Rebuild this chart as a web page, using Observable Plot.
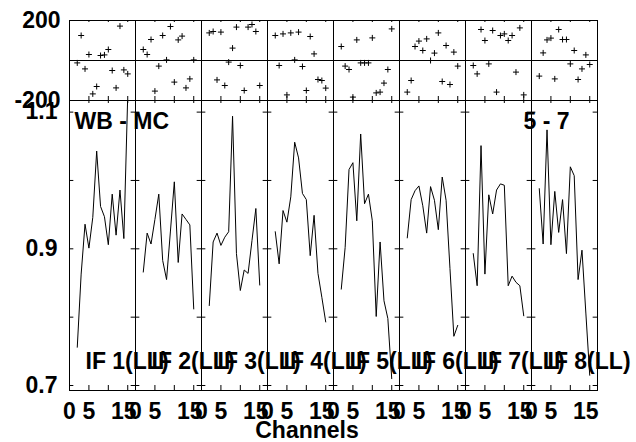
<!DOCTYPE html>
<html><head><meta charset="utf-8">
<script src="https://cdn.jsdelivr.net/npm/d3@7"></script>
<script src="https://cdn.jsdelivr.net/npm/@observablehq/plot@0.6"></script>
<style>
body{margin:0;background:#fff;}
#chart{position:relative;width:636px;height:442px;font-family:"Liberation Sans",Arial,sans-serif;font-weight:bold;}
#chart svg{position:absolute;left:0;overflow:visible;background:transparent;}
#xlabel{position:absolute;left:307px;top:418.5px;transform:translateX(-50%);font-size:23px;line-height:23px;white-space:nowrap;color:#000;}
</style></head><body>
<div id="chart"><div id="xlabel">Channels</div></div>
<script>
// ---- data ----
const ifLabels = ["IF 1(LL)","IF 2(LL)","IF 3(LL)","IF 4(LL)","IF 5(LL)","IF 6(LL)","IF 7(LL)","IF 8(LL)"];
const channels = [2,3,4,5,6,7,8,9,10,11,12,13,14,15];

const ampIF1 = [0.756,0.863,0.936,0.901,0.946,1.043,0.962,0.947,0.906,0.980,0.920,0.986,0.915,1.125];
const ampIF2 = [0.866,0.923,0.907,0.943,0.980,0.883,0.855,0.926,0.998,0.880,0.951,0.943,0.935,0.812];
const ampIF3 = [0.817,0.910,0.923,0.905,0.917,0.925,1.094,0.893,0.839,0.869,0.864,0.912,0.959,0.847];
const ampIF4 = [0.925,0.878,0.956,0.939,0.976,1.056,1.033,0.981,0.972,0.890,0.949,0.864,0.829,0.793];
const ampIF5 = [0.841,0.902,1.016,1.026,0.941,1.068,0.966,0.980,0.941,0.801,0.910,0.824,0.798,0.710];
const ampIF6 = [0.916,0.972,0.985,0.992,0.963,0.923,0.991,0.971,0.928,1.005,0.971,0.871,0.772,0.788];
const ampIF7 = [0.893,0.846,1.051,0.863,0.979,0.951,0.986,0.995,0.993,0.846,0.860,0.851,0.846,0.802];
const ampIF8 = [0.988,0.907,1.074,0.906,0.984,0.924,0.972,0.893,1.020,1.007,0.855,0.898,0.806,0.715];

const phaseIF1 = [-12,125,-42,30,-167,-130,25,28,55,-50,-137,172,-47,-67];
const phaseIF2 = [55,30,105,-153,-28,125,3,170,-108,103,122,-137,-92,3];
const phaseIF3 = [138,145,-97,142,-125,-8,62,167,-25,-150,167,180,145,-125];
const phaseIF4 = [125,-25,133,-172,138,3,142,-30,-150,120,33,-95,-100,-138];
const phaseIF5 = [70,-28,-45,-183,103,-12,-12,-12,113,-162,-158,-113,-45,158];
const phaseIF6 = [-158,-100,70,97,50,108,0,37,138,-105,75,-120,42,-28];
const phaseIF7 = [-25,-67,155,100,-17,150,-158,125,133,100,125,-58,163,-172];
const phaseIF8 = [-78,38,103,112,-92,155,105,105,-17,50,-95,-42,28,-20];

const xTicks = [0,5,10,15];
const xTickLabelsA = [0,5];
const xTickLabelsB = [15];
const ampTicks = [0.7,0.8,0.9,1.0,1.1];
const ampTickLabels = [0.7,0.9,1.1];
const phaseTickLabels = [-200,200];
const sourceLabel = "WB - MC";
const timeLabel = "5 - 7";

// ---- build tables ----
const ampSeries = [ampIF1,ampIF2,ampIF3,ampIF4,ampIF5,ampIF6,ampIF7,ampIF8];
const phaseSeries = [phaseIF1,phaseIF2,phaseIF3,phaseIF4,phaseIF5,phaseIF6,phaseIF7,phaseIF8];
const ampData = [], phaseData = [];
ifLabels.forEach((lab, i) => {
  channels.forEach((ch, j) => {
    ampData.push({if: lab, ch, amp: ampSeries[i][j]});
    phaseData.push({if: lab, ch, phase: phaseSeries[i][j]});
  });
});

const W = 636, ML = 66.67, MR = 36;
const facetW = (W - ML - MR) / ifLabels.length;
const font = {fontFamily: '"Liberation Sans", Arial, sans-serif', fontSize: "23px", fontWeight: "bold", color: "black", overflow: "visible", background: "transparent"};
const cross = {draw(ctx, size){ const r = Math.sqrt(size/Math.PI); ctx.moveTo(-r,0); ctx.lineTo(r,0); ctx.moveTo(0,-r); ctx.lineTo(0,r); }};
const plain = d => String(d);

// ---- amplitude plot ----
const ampH = 342, ampMB = 52, ampInner = ampH - ampMB;
const ampPlot = Plot.plot({
  width: W, height: ampH, marginTop: 0, marginBottom: ampMB, marginLeft: ML, marginRight: MR,
  style: font,
  fx: {domain: ifLabels, padding: 0, axis: null, label: null},
  x: {domain: [0,17], axis: null, label: null},
  y: {domain: [0.6927,1.117], axis: null, label: null},
  marks: [
    Plot.tickY(ampTicks, {y: d => d, insetRight: facetW - 5, stroke: "black"}),
    Plot.tickY(ampTicks, {y: d => d, insetLeft: facetW - 5, stroke: "black"}),
    Plot.tickX(xTicks, {x: d => d, insetTop: ampInner - 5, stroke: "black"}),
    Plot.tickX(xTicks, {x: d => d, insetBottom: ampInner - 3, stroke: "black"}),
    Plot.line(ampData, {x: "ch", y: "amp", fx: "if", stroke: "black", strokeWidth: 1, clip: true}),
    Plot.frame({stroke: "black"}),
    Plot.text(ifLabels, {fx: d => d, text: d => d, frameAnchor: "bottom-left", lineAnchor: "bottom", textAnchor: "start", dx: 16, dy: -22, fill: "black"}),
    Plot.text([sourceLabel], {fx: () => ifLabels[0], text: d => d, frameAnchor: "top-left", lineAnchor: "bottom", textAnchor: "start", dx: 5, dy: 28, fill: "black"}),
    Plot.text([timeLabel], {fx: () => ifLabels[7], text: d => d, frameAnchor: "top-right", lineAnchor: "bottom", textAnchor: "end", dx: -28, dy: 28, fill: "black"}),
    Plot.axisY(ampTickLabels, {anchor: "left", label: null, tickSize: 0, tickPadding: 12, tickFormat: plain, fill: "black"}),
    Plot.axisX(xTickLabelsA, {anchor: "bottom", label: null, tickSize: 0, tickPadding: 12, tickFormat: plain, fill: "black"}),
    Plot.axisX(xTickLabelsB, {anchor: "bottom", label: null, tickSize: 0, tickPadding: 12, tickFormat: plain, dx: -4, fill: "black"})
  ]
});
ampPlot.style.top = "100px";

// ---- phase plot ----
const phH = 100, phMT = 20, phInner = phH - phMT;
const phasePlot = Plot.plot({
  width: W, height: phH, marginTop: phMT, marginBottom: 0, marginLeft: ML, marginRight: MR,
  style: font,
  fx: {domain: ifLabels, padding: 0, axis: null, label: null},
  x: {domain: [0,17], axis: null, label: null},
  y: {domain: [-200,200], axis: null, label: null},
  marks: [
    Plot.ruleY([0], {stroke: "black"}),
    Plot.tickX(xTicks, {x: d => d, insetTop: phInner - 4, stroke: "black"}),
    Plot.tickX(xTicks, {x: d => d, insetBottom: phInner - 2, stroke: "black"}),
    Plot.dot(phaseData, {x: "ch", y: "phase", fx: "if", symbol: cross, r: 3, stroke: "black", fill: "none", strokeWidth: 1}),
    Plot.frame({stroke: "black"}),
    Plot.axisY(phaseTickLabels, {anchor: "left", label: null, tickSize: 0, tickPadding: 9, tickFormat: plain, fill: "black"})
  ]
});
phasePlot.style.top = "0px";

const chart = document.getElementById("chart");
chart.appendChild(ampPlot);
chart.appendChild(phasePlot);
</script>
</body></html>
